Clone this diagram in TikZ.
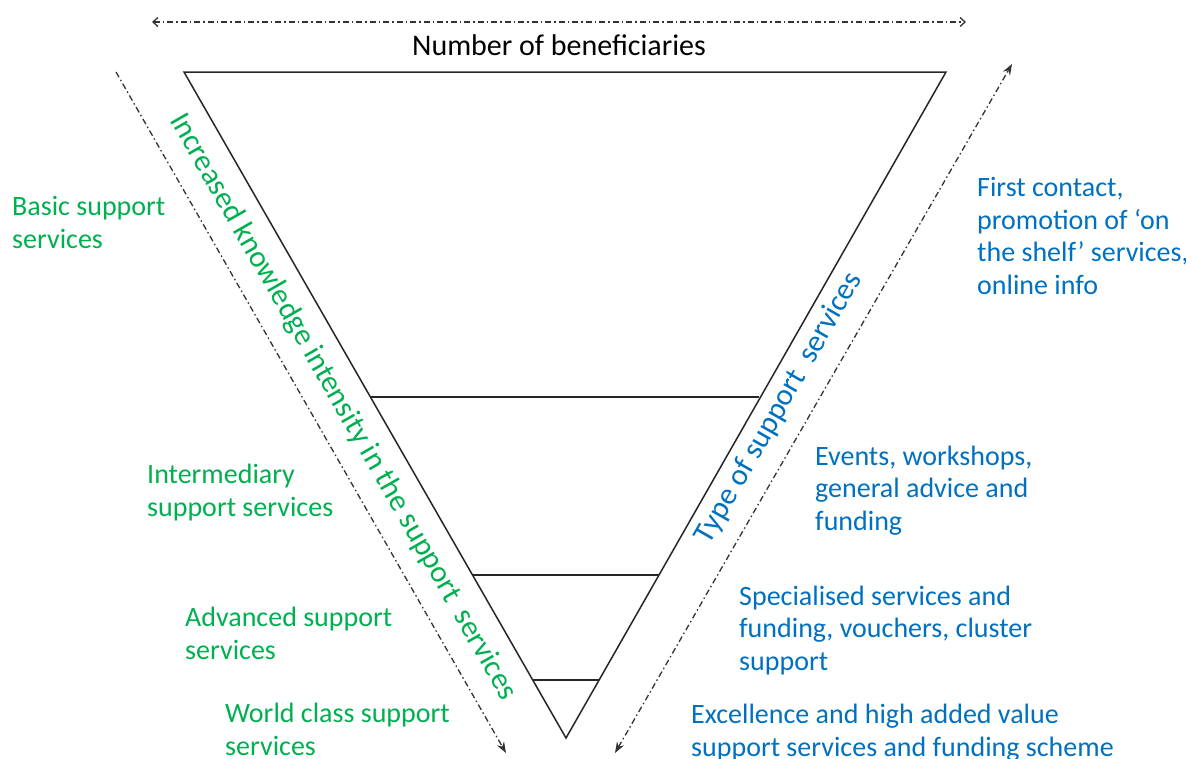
\documentclass[tikz,border=0pt]{standalone}
\usepackage{fontspec}
\setmainfont{Carlito}
\usetikzlibrary{arrows.meta}
\definecolor{tgreen}{RGB}{0,176,80}
\definecolor{tblue}{RGB}{0,112,192}
\begin{document}
\begin{tikzpicture}[x=1pt,y=-1pt,
  edge/.style={line width=1.5pt,black!85},
  dotarrow/.style={line width=1.3pt,black!80,dash pattern=on 6pt off 3pt on 1.5pt off 3pt},
  gtext/.style={text=tgreen,font=\fontsize{28}{32.5}\selectfont,align=left,anchor=base west,inner sep=0pt},
  btext/.style={text=tblue,font=\fontsize{28}{32.5}\selectfont,align=left,anchor=base west,inner sep=0pt}]
\useasboundingbox (0,0) rectangle (1186,758);
% triangle
\coordinate (tl) at (184,72);
\coordinate (tr) at (946,72);
\coordinate (ap) at (566,738);
\draw[edge,line join=miter] (tl) -- (tr) -- (ap) -- cycle;
\draw[edge] (371,397) coordinate (l1) -- (759,397) coordinate (r1);
\draw[edge] (472,575) coordinate (l2) -- (659,575) coordinate (r2);
\draw[edge] (533,680) coordinate (l3) -- (599,680) coordinate (r3);
% arrows
\coordinate (ha) at (152,22);
\coordinate (hb) at (966,22);
\draw[dotarrow,{Straight Barb[length=5pt,width=9pt]}-{Straight Barb[length=5pt,width=9pt]}] (ha) -- (hb);
\coordinate (la) at (116,72);
\coordinate (lb) at (506,753);
\draw[dotarrow,-{Stealth[length=11pt,width=8pt]}] (la) -- (lb);
\coordinate (ra) at (615,753);
\coordinate (rb) at (1012,64);
\draw[dotarrow,{Stealth[length=11pt,width=8pt]}-{Stealth[length=11pt,width=8pt]}] (ra) -- (rb);
% titles
\node[font=\fontsize{30}{34}\selectfont,anchor=base,inner sep=0pt] (title) at (559,55) {Number of beneficiaries};
\node[text=tgreen,font=\fontsize{30.5}{34}\selectfont,rotate=-60.2,inner sep=0pt] (kn) at (343,407) {Increased knowledge intensity in the support\ \ services};
\node[text=tblue,font=\fontsize{30.5}{34}\selectfont,rotate=60.2,inner sep=0pt] (ty) at (779,408) {Type of support\ \ services};
% left labels
\node[gtext] (basic) at (12,248) {Basic support\\services};
\node[gtext] (inter) at (147,516) {Intermediary\\support services};
\node[gtext] (adv) at (185,659) {Advanced support\\services};
\node[gtext] (world) at (225,755) {World class support\\services};
% right labels
\node[btext] (first) at (977,294) {First contact,\\promotion of ‘on\\the shelf’ services,\\online info};
\node[btext] (events) at (815,530) {Events, workshops,\\general advice and\\funding};
\node[btext] (spec) at (739,670) {Specialised services and\\funding, vouchers, cluster\\support};
\node[btext] (exc) at (691,756) {Excellence and high added value\\support services and funding scheme};
\end{tikzpicture}
\end{document}
